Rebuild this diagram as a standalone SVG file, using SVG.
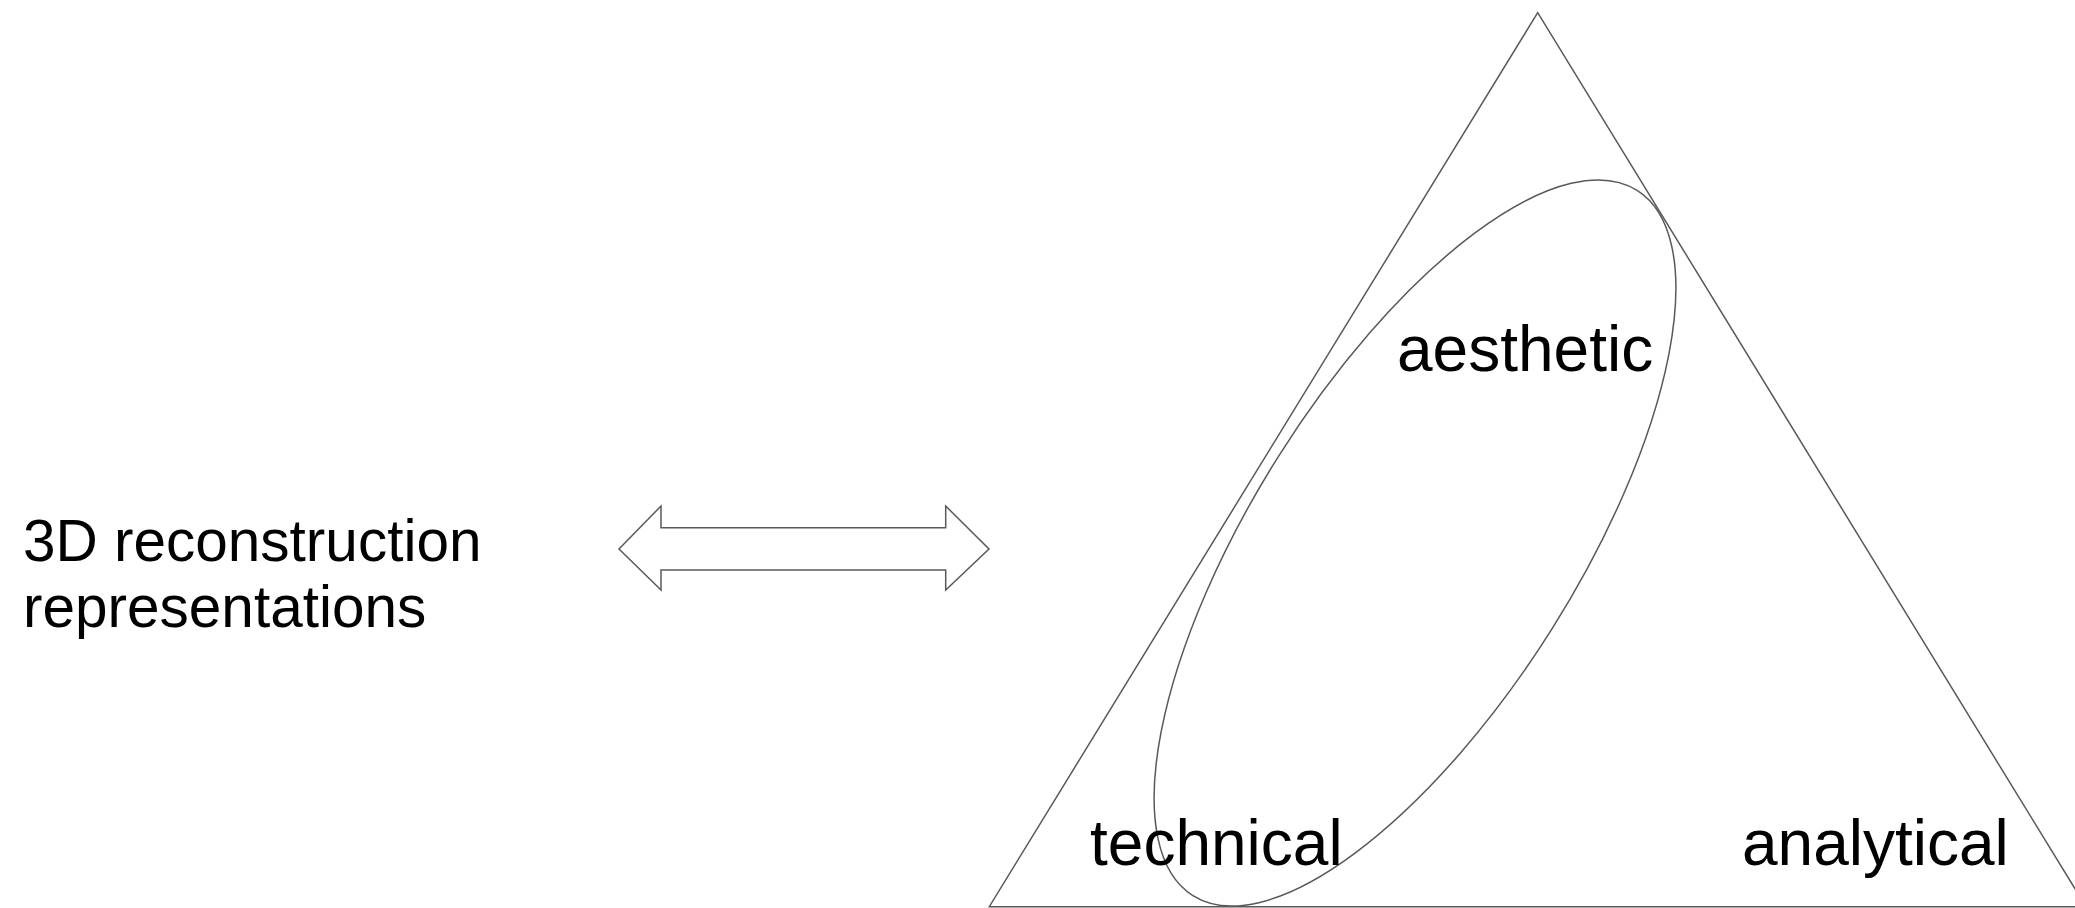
<svg xmlns="http://www.w3.org/2000/svg" width="2075" height="908" viewBox="0 0 2075 908">
<style>
.ln{fill:none;stroke:#595959;stroke-width:1.5}
.ar{fill:#ffffff;stroke:#595959;stroke-width:1.5;stroke-linejoin:miter}
.t{font-family:"Liberation Sans",Arial,sans-serif;fill:#000000}
</style>
<rect width="2075" height="908" fill="#ffffff"/>
<g id="triangle"><polygon class="ln" points="1537.7,12.7 989.3,906.7 2086,906.7"/></g>
<g id="ellipse"><ellipse class="ln" cx="1415" cy="543" rx="416.8" ry="161.7" transform="rotate(-57.8 1415 543)"/></g>
<g id="connectors"><polygon class="ar" points="619,549 661,506 661,527.7 945.7,527.7 945.7,506 989,549 945.7,590 945.7,570 661,570 661,590"/></g>
<g id="label-left"><text class="t" font-size="58.5" x="23" y="561">3D reconstruction</text><text class="t" font-size="58.5" x="23" y="627">representations</text></g>
<g id="label-aesthetic"><text class="t" font-size="64" x="1397" y="371">aesthetic</text></g>
<g id="label-technical"><text class="t" font-size="64" x="1090" y="865">technical</text></g>
<g id="label-analytical"><text class="t" font-size="64" x="1742" y="865">analytical</text></g>
</svg>
